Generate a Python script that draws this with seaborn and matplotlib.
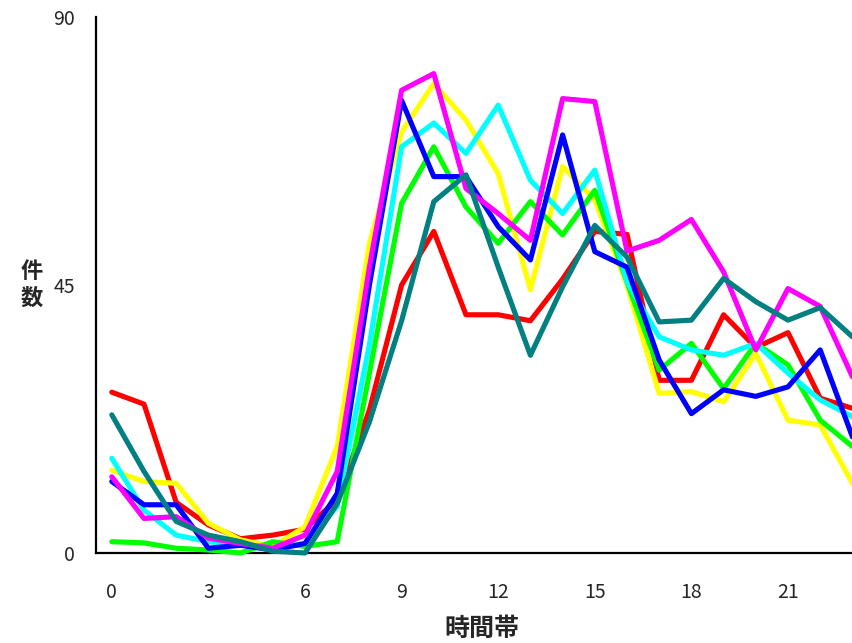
import matplotlib
matplotlib.use("Agg")
import matplotlib.pyplot as plt
import pandas as pd
import seaborn as sns

# ---- data ----
hours = list(range(24))
x_tick_values = [0, 3, 6, 9, 12, 15, 18, 21]
x_tick_labels = ["0", "3", "6", "9", "12", "15", "18", "21"]
y_ticks = [0, 45, 90]

red = [27.0, 25.0, 8.5, 4.7, 2.4, 3.0, 4.0, 9.0, 24.0, 45.0, 54.0, 40.0,
       40.0, 39.0, 46.0, 54.0, 53.5, 29.0, 29.0, 40.0, 34.5, 37.0, 26.0, 24.3]
yellow = [13.9, 12.0, 11.7, 5.0, 2.2, 1.1, 4.4, 17.9, 52.0, 70.7, 78.8, 72.7,
          63.7, 44.2, 64.9, 59.3, 45.0, 26.8, 27.1, 25.4, 33.5, 22.3, 21.5, 11.7]
green = [1.9, 1.7, 0.8, 0.5, 0.0, 1.9, 1.1, 1.9, 30.2, 58.7, 68.2, 58.1,
         52.0, 59.0, 53.4, 60.9, 45.5, 30.7, 35.2, 27.6, 35.2, 31.6, 22.3, 17.9]
cyan = [15.9, 7.2, 3.0, 1.9, 1.3, 0.8, 1.6, 7.8, 35.0, 68.2, 72.2, 67.1,
        75.2, 62.6, 57.0, 64.3, 45.5, 36.3, 34.1, 33.2, 35.2, 30.2, 25.7, 22.9]
blue = [12.0, 8.1, 8.1, 0.8, 1.3, 0.5, 1.6, 10.0, 45.0, 76.0, 63.2, 63.2,
        54.8, 49.2, 70.2, 50.6, 48.0, 32.4, 23.4, 27.4, 26.3, 27.9, 34.1, 19.5]
magenta = [12.8, 5.8, 6.1, 2.5, 1.6, 0.8, 3.0, 13.7, 48.0, 77.7, 80.5, 61.2,
           57.0, 52.5, 76.3, 75.8, 50.7, 52.5, 56.0, 47.2, 34.1, 44.4, 41.4, 29.6]
teal = [23.2, 13.7, 5.3, 3.0, 1.9, 0.3, 0.0, 8.3, 22.0, 39.0, 59.0, 63.5,
        48.0, 33.2, 44.7, 55.0, 49.7, 38.8, 39.1, 46.1, 42.2, 39.1, 41.2, 36.3]

series_names = ["系列1", "系列2", "系列3", "系列4", "系列5", "系列6", "系列7"]
series_values = [red, yellow, green, cyan, blue, magenta, teal]
series_colors = ["#FF0000", "#FFFF00", "#00FF00", "#00FFFF", "#0000FF", "#FF00FF", "#008080"]

x_label = "時間帯"
y_label = "件\n数"

# ---- long-form table ----
rows = []
for name, vals in zip(series_names, series_values):
    for h, v in zip(hours, vals):
        rows.append({"時間": h, "件数": v, "系列": name})
df = pd.DataFrame(rows)

# ---- style ----
sns.set_style("white")
plt.rcParams["font.family"] = ["Noto Sans CJK JP", "DejaVu Sans"]

W, H = 853, 643
fig = plt.figure(figsize=(W / 100, H / 100), dpi=100)
ax_left, ax_right, ax_bottom, ax_top = 95.7, 868.5, 553.0, 17.0
ax = fig.add_axes([ax_left / W, (H - ax_bottom) / H,
                   (ax_right - ax_left) / W, (ax_bottom - ax_top) / H])

sns.lineplot(data=df, x="時間", y="件数", hue="系列", hue_order=series_names,
             palette=dict(zip(series_names, series_colors)),
             linewidth=3.7, legend=False, ax=ax, sort=False)
for ln in ax.lines:
    ln.set_clip_on(False)
    ln.set_solid_joinstyle("round")
    ln.set_solid_capstyle("round")

ax.set_xlim(-0.5, 23.5)
ax.set_ylim(0, 90)

for side in ["top", "right"]:
    ax.spines[side].set_visible(False)
for side in ["left", "bottom"]:
    ax.spines[side].set_color("black")
    ax.spines[side].set_linewidth(1.6)
    ax.spines[side].set_zorder(0.5)

ax.set_xticks(x_tick_values)
ax.set_xticklabels(x_tick_labels)
ax.set_xticks([2.5, 5.5, 8.5, 11.5, 14.5, 17.5, 20.5], minor=True)
ax.tick_params(axis="x", which="major", length=0, pad=21, labelsize=14)
ax.tick_params(axis="x", which="minor", direction="in", length=6, width=1.5, color="black")
ax.set_yticks(y_ticks)
ax.tick_params(axis="y", which="major", direction="in", length=6, width=1.5,
               color="black", pad=15, labelsize=14)

ax.set_xlabel(x_label, fontsize=18, fontweight="bold")
ax.xaxis.label.set_va("center")
ax.xaxis.set_label_coords(0.5, (ax_bottom - 629) / (ax_bottom - ax_top))
ax.set_ylabel(y_label, fontsize=16, fontweight="bold", rotation=0, linespacing=1.25)
ax.yaxis.label.set_va("center")
ax.yaxis.label.set_ha("center")
ax.yaxis.set_label_coords((32 - ax_left) / (ax_right - ax_left), (ax_bottom - 285) / (ax_bottom - ax_top))

fig.savefig("out.png", dpi=100)
